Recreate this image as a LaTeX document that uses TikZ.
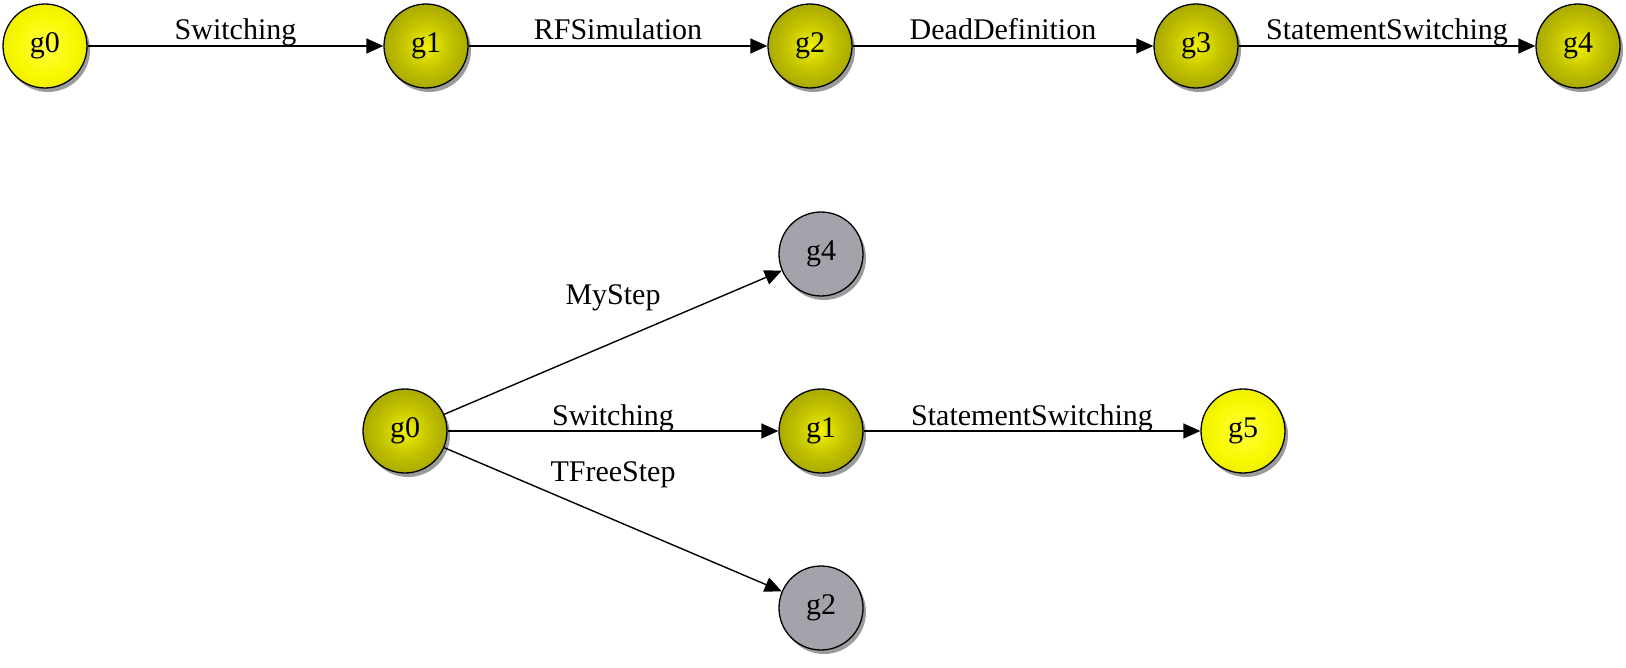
\documentclass[tikz,border=0pt]{standalone}
\usepackage{fontspec}
\setmainfont{Liberation Serif}
\usetikzlibrary{arrows.meta,shadows}
\definecolor{olivedark}{HTML}{6E6E00}
\definecolor{olivemid}{HTML}{C4C400}
\definecolor{olivelight}{HTML}{F2F200}
\definecolor{yeldark}{HTML}{D4D400}
\definecolor{yelmid}{HTML}{F8F800}
\definecolor{yellight}{HTML}{FFFF40}
\definecolor{graynode}{HTML}{A3A3AB}
\pgfdeclareradialshading{olvshade}{\pgfpoint{0bp}{0bp}}{color(0bp)=(olivelight); color(14bp)=(olivemid); color(50bp)=(olivedark); color(100bp)=(olivedark)}
\pgfdeclareradialshading{ylwshade}{\pgfpoint{0bp}{0bp}}{color(0bp)=(yellight); color(18bp)=(yelmid); color(50bp)=(yeldark); color(100bp)=(yeldark)}
\newcommand{\labfont}{\fontsize{30}{36}\selectfont}
\begin{document}
\begin{tikzpicture}[x=1pt,y=-1pt,
  st/.style={circle, draw=black, line width=1.3pt, minimum size=84pt, inner sep=0pt, font=\labfont,
    drop shadow={shadow xshift=3pt, shadow yshift=-4pt, opacity=0.6, fill=black!65}},
  ylw/.style={st, shading=ylwshade},
  olv/.style={st, shading=olvshade},
  gry/.style={st, fill=graynode},
  edge/.style={-{Triangle[length=17pt,width=15pt]}, line width=1.4pt, black},
  lbl/.style={font=\labfont, anchor=base, inner sep=0pt, yshift=6pt},
  dlbl/.style={font=\labfont, anchor=base, inner sep=0pt}
]
\useasboundingbox (0,0) rectangle (1626,668);
% top row
\node[ylw] (a0) at (45,46) {g0};
\node[olv] (a1) at (426,46) {g1};
\node[olv] (a2) at (810,46) {g2};
\node[olv] (a3) at (1196,46) {g3};
\node[olv] (a4) at (1578,46) {g4};
\draw[edge] (a0) -- node[lbl] {Switching} (a1);
\draw[edge] (a1) -- node[lbl] {RFSimulation} (a2);
\draw[edge] (a2) -- node[lbl] {DeadDefinition} (a3);
\draw[edge] (a3) -- node[lbl] {StatementSwitching} (a4);
% bottom graph
\node[olv] (b0) at (405,431) {g0};
\node[gry] (b4) at (821,254) {g4};
\node[olv] (b1) at (821,431) {g1};
\node[ylw] (b5) at (1243,431) {g5};
\node[gry] (b2) at (821,608) {g2};
\draw[edge] (b0) -- node[dlbl, yshift=38pt] {MyStep} (b4);
\draw[edge] (b0) -- node[lbl] {Switching} (b1);
\draw[edge] (b0) -- node[dlbl, yshift=38pt] {TFreeStep} (b2);
\draw[edge] (b1) -- node[lbl] {StatementSwitching} (b5);
\end{tikzpicture}
\end{document}
